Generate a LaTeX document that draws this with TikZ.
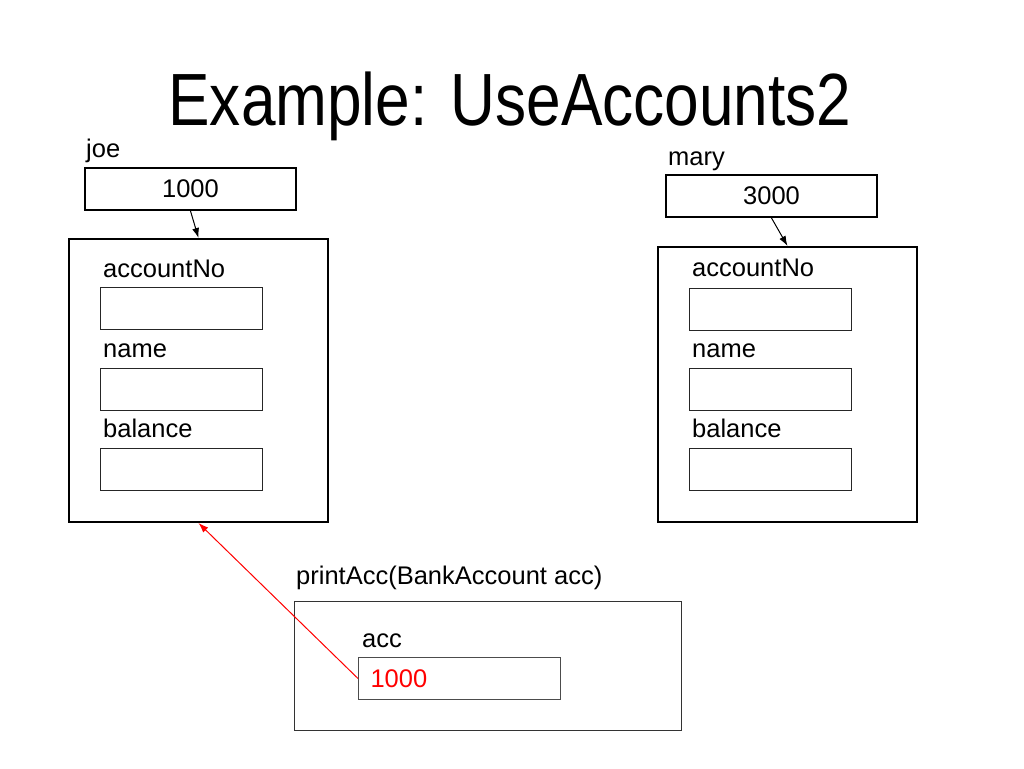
\documentclass[tikz,border=0pt]{standalone}
\usepackage{fontspec}
\setmainfont{Liberation Sans}
\newfontfamily\titlefont[FakeStretch=0.84]{Liberation Sans}
\usetikzlibrary{arrows.meta}
\tikzset{
  txt/.style={inner sep=0pt, anchor=base west, font=\fontsize{25.5}{30}\selectfont},
  varbox/.style={draw, line width=2pt, anchor=north west, inner sep=0pt,
    minimum width=211pt, minimum height=42pt, font=\fontsize{25.5}{30}\selectfont},
  objbox/.style={draw, line width=2pt, anchor=north west, minimum width=259pt},
  fieldbox/.style={draw=black!85, line width=1.3pt, anchor=north west,
    minimum width=162pt, minimum height=42pt},
  framebox/.style={draw=black!80, line width=1pt, anchor=north west,
    minimum width=387pt, minimum height=129pt},
  ptr/.style={-{Latex[length=10pt,width=7pt]}, line width=1pt}
}
\begin{document}
\begin{tikzpicture}[x=1pt,y=-1pt]
  \useasboundingbox (0,0) rectangle (1024,768);
  \node[anchor=base, inner sep=0pt, font=\titlefont\fontsize{74}{80}\selectfont] (title) at (510,125) {Example: UseAccounts2};

  % joe
  \node[txt] (joeLbl) at (86,157) {joe};
  \node[varbox] (joeVar) at (84,167) {1000};
  \node[objbox, minimum height=283pt] (joeObj) at (68,238) {};
  \node[txt] (joeNoLbl) at (103,277) {accountNo};
  \node[fieldbox] (joeNo) at (100,287) {};
  \node[txt] (joeNameLbl) at (103,357) {name};
  \node[fieldbox] (joeName) at (100,368) {};
  \node[txt] (joeBalLbl) at (103,437) {balance};
  \node[fieldbox] (joeBal) at (100,448) {};
  \draw[ptr] (joeVar.south) -- (joeObj.north);

  % mary
  \node[txt] (maryLbl) at (668,165) {mary};
  \node[varbox] (maryVar) at (665,174) {3000};
  \node[objbox, minimum height=275pt] (maryObj) at (657,246) {};
  \node[txt] (maryNoLbl) at (692,276) {accountNo};
  \node[fieldbox] (maryNo) at (689,288) {};
  \node[txt] (maryNameLbl) at (692,357) {name};
  \node[fieldbox] (maryName) at (689,368) {};
  \node[txt] (maryBalLbl) at (692,437) {balance};
  \node[fieldbox] (maryBal) at (689,448) {};
  \draw[ptr] (maryVar.south) -- (maryObj.north);

  % printAcc frame
  \node[txt] (methLbl) at (296,584) {printAcc(BankAccount acc)};
  \node[framebox] (frame) at (294,601) {};
  \node[txt] (accLbl) at (362,647) {acc};
  \node[fieldbox, draw=black!70, line width=1pt, minimum width=202pt, text=red,
    text width=178pt, inner xsep=12pt, align=left,
    font=\fontsize{25.5}{30}\selectfont] (accVar) at (358,657) {1000};
  \draw[ptr, red] (accVar.west) -- (joeObj.south);
\end{tikzpicture}
\end{document}
